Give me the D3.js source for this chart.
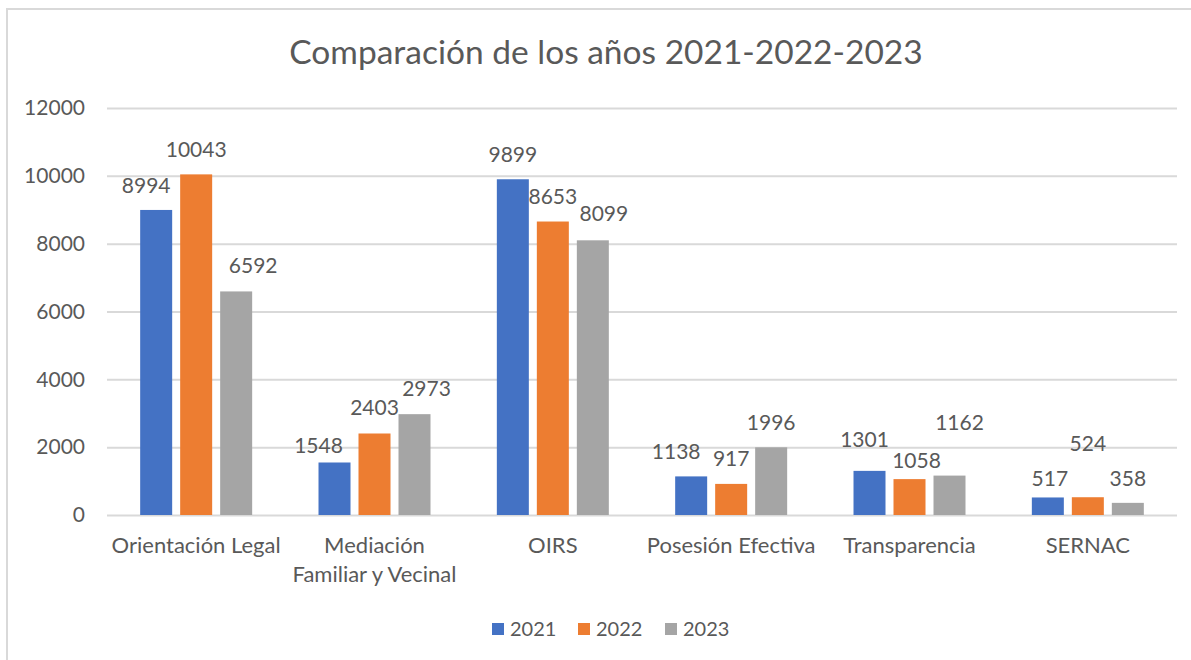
<!DOCTYPE html>
<html>
<head>
<meta charset="utf-8">
<script src="https://cdn.jsdelivr.net/npm/d3@7/dist/d3.min.js"></script>
<style>
  html, body { margin: 0; padding: 0; background: #fff; }
  svg { display: block; }
  text { font-family: Lato, "Open Sans", sans-serif; fill: #595959; }
</style>
</head>
<body>
<svg id="chart" width="1191" height="660"></svg>
<script>
// ---- data ----
const title = "Comparación de los años 2021-2022-2023";
const categories = ["Orientación Legal", "Mediación\nFamiliar y Vecinal", "OIRS", "Posesión Efectiva", "Transparencia", "SERNAC"];
const seriesNames = ["2021", "2022", "2023"];
const values2021 = [8994, 1548, 9899, 1138, 1301, 517];
const values2022 = [10043, 2403, 8653, 917, 1058, 524];
const values2023 = [6592, 2973, 8099, 1996, 1162, 358];
const yTicks = [0, 2000, 4000, 6000, 8000, 10000, 12000];
const colors = ["#4472C4", "#ED7D31", "#A5A5A5"];
// data-label nudges (px) relative to bar centre / bar top, as placed in the original
const labelNudge = [
  [[-10, -25], [0, -25], [17, -26]],
  [[-16, -17], [0, -26], [12, -26]],
  [[0, -25], [0, -25], [11, -27]],
  [[-15, -25], [0, -25], [0, -25]],
  [[-5, -31], [7, -19], [10, -53]],
  [[2, -19], [0, -54], [0, -24]]
];

const seriesValues = [values2021, values2022, values2023];

const svg = d3.select("#chart");

// chart frame
svg.append("rect").attr("x", 7).attr("y", 9).attr("width", 1200).attr("height", 700)
  .attr("fill", "none").attr("stroke", "#D9D9D9").attr("stroke-width", 2);

const plot = { left: 107, right: 1177, top: 108, bottom: 515 };

const x0 = d3.scaleBand().domain(d3.range(categories.length))
  .range([plot.left, plot.right]).paddingInner(0.372).paddingOuter(0.186);
const x1 = d3.scaleBand().domain(d3.range(seriesNames.length))
  .range([0, x0.bandwidth()]).paddingInner(0.2).paddingOuter(0);
const y = d3.scaleLinear().domain([0, 12000]).range([plot.bottom, plot.top]);

// title
svg.append("text").attr("x", 606).attr("y", 64).attr("text-anchor", "middle")
  .style("font-size", "33.5px").text(title);

// gridlines + y ticks
const yAxis = d3.axisLeft(y).tickValues(yTicks).tickSize(-(plot.right - plot.left)).tickPadding(22)
  .tickFormat(d3.format("d"));
const gy = svg.append("g").attr("transform", `translate(${plot.left},0)`).call(yAxis);
gy.select(".domain").remove();
gy.selectAll(".tick line").attr("stroke", "#D9D9D9").attr("stroke-width", 2);
gy.selectAll(".tick text").style("font-size", "21px").attr("fill", "#595959");

// bars
const groups = svg.append("g").selectAll("g").data(categories).join("g")
  .attr("transform", (d, i) => `translate(${x0(i)},0)`);

groups.each(function(cat, ci) {
  const g = d3.select(this);
  seriesNames.forEach((s, si) => {
    const v = seriesValues[si][ci];
    g.append("rect")
      .attr("x", x1(si)).attr("y", y(v))
      .attr("width", x1.bandwidth()).attr("height", y(0) - y(v))
      .attr("fill", colors[si]);
  });
});

// data labels
groups.each(function(cat, ci) {
  const g = d3.select(this);
  seriesNames.forEach((s, si) => {
    const v = seriesValues[si][ci];
    const [dx, dy] = labelNudge[ci][si];
    g.append("text")
      .attr("x", x1(si) + x1.bandwidth() / 2 + dx)
      .attr("y", y(v) + dy)
      .attr("dy", "0.36em")
      .attr("text-anchor", "middle")
      .style("font-size", "21px")
      .text(v);
  });
});

// category labels
const xAxis = svg.append("g");
categories.forEach((c, i) => {
  const t = xAxis.append("text")
    .attr("x", x0(i) + x0.bandwidth() / 2)
    .attr("y", 553)
    .attr("text-anchor", "middle")
    .style("font-size", "22px");
  c.split("\n").forEach((line, li) => {
    t.append("tspan").attr("x", x0(i) + x0.bandwidth() / 2).attr("dy", li === 0 ? 0 : 29).text(line);
  });
});

// legend
const legendItems = seriesNames.map((s, i) => ({ s, c: colors[i] }));
const legend = svg.append("g");
const itemX = [492, 578, 665];
legendItems.forEach((d, i) => {
  legend.append("rect").attr("x", itemX[i]).attr("y", 623).attr("width", 12).attr("height", 12).attr("fill", d.c);
  legend.append("text").attr("x", itemX[i] + 18).attr("y", 636).style("font-size", "20px").text(d.s);
});
</script>
</body>
</html>
